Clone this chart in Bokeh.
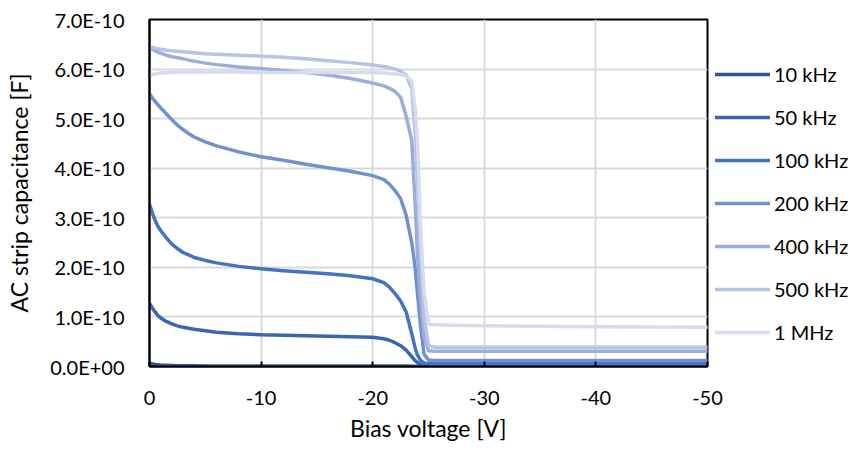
from bokeh.plotting import figure
from bokeh.models import (Range1d, FixedTicker, CustomJSTickFormatter, Legend,
                          LegendItem, ColumnDataSource)
from bokeh.embed import file_html
from bokeh.resources import INLINE

# Bias voltage [V]
V = [0, -0.25, -0.5, -0.75, -1, -1.5, -2, -2.5, -3, -3.5, -4, -5, -6, -8, -10,
     -12, -14, -16, -18, -20, -21, -21.5, -22, -22.5, -23, -23.5, -23.8, -24,
     -24.3, -24.6, -25, -25.5, -27, -30, -40, -50]

# AC strip capacitance in units of 1E-10 F
c_10k = [0.06, 0.05, 0.04, 0.035, 0.03, 0.025, 0.02, 0.017, 0.015, 0.014, 0.013,
         0.012, 0.011, 0.01, 0.01, 0.01, 0.01, 0.01, 0.01, 0.01, 0.01, 0.01,
         0.01, 0.01, 0.008, 0.006, 0.005, 0.004, 0.003, 0.002, 0.0, 0.0, 0.0,
         0.0, 0.0, 0.0]
c_50k = [1.27, 1.18, 1.10, 1.03, 0.98, 0.91, 0.86, 0.82, 0.79, 0.77, 0.75,
         0.72, 0.69, 0.66, 0.64, 0.63, 0.62, 0.61, 0.60, 0.59, 0.56, 0.53,
         0.48, 0.42, 0.33, 0.20, 0.12, 0.08, 0.04, 0.03, 0.02, 0.02, 0.02,
         0.02, 0.02, 0.02]
c_100k = [3.28, 3.10, 2.95, 2.83, 2.74, 2.60, 2.47, 2.38, 2.30, 2.25, 2.20,
          2.14, 2.09, 2.02, 1.97, 1.93, 1.90, 1.87, 1.83, 1.77, 1.69, 1.60,
          1.47, 1.32, 1.10, 0.66, 0.38, 0.24, 0.12, 0.07, 0.06, 0.06, 0.06,
          0.06, 0.06, 0.06]
c_200k = [5.50, 5.42, 5.35, 5.28, 5.22, 5.10, 4.98, 4.87, 4.78, 4.70, 4.63,
          4.53, 4.45, 4.33, 4.23, 4.16, 4.08, 4.01, 3.94, 3.85, 3.77, 3.68,
          3.55, 3.39, 3.05, 2.50, 2.00, 1.50, 0.80, 0.25, 0.13, 0.12, 0.12,
          0.12, 0.12, 0.12]
c_400k = [6.44, 6.40, 6.37, 6.34, 6.32, 6.28, 6.25, 6.23, 6.21, 6.18, 6.16,
          6.12, 6.09, 6.04, 6.01, 5.97, 5.93, 5.88, 5.81, 5.72, 5.66, 5.61,
          5.55, 5.43, 5.05, 4.55, 3.30, 2.30, 1.30, 0.60, 0.32, 0.31, 0.31,
          0.31, 0.31, 0.31]
c_500k = [6.45, 6.44, 6.42, 6.41, 6.40, 6.38, 6.37, 6.36, 6.35, 6.34, 6.33,
          6.31, 6.30, 6.28, 6.26, 6.24, 6.21, 6.17, 6.13, 6.08, 6.05, 6.03,
          6.00, 5.96, 5.88, 5.60, 4.70, 3.80, 2.20, 1.00, 0.42, 0.39, 0.39,
          0.39, 0.39, 0.39]
c_1M = [5.87, 5.89, 5.90, 5.91, 5.92, 5.93, 5.93, 5.94, 5.94, 5.94, 5.94,
        5.94, 5.94, 5.94, 5.93, 5.93, 5.93, 5.93, 5.93, 5.93, 5.92, 5.91,
        5.90, 5.89, 5.87, 5.75, 5.20, 4.60, 2.80, 1.50, 0.86, 0.84, 0.83,
        0.82, 0.80, 0.79]

labels = ["10 kHz", "50 kHz", "100 kHz", "200 kHz", "400 kHz", "500 kHz", "1 MHz"]
series = [c_10k, c_50k, c_100k, c_200k, c_400k, c_500k, c_1M]
colors = ["#2F5597", "#3A65B5", "#4472C4", "#7190D0", "#9AADDB", "#B6C3E4", "#D6DCEE"]

y_ticks = [0, 1e-10, 2e-10, 3e-10, 4e-10, 5e-10, 6e-10, 7e-10]
x_ticks = [0, -10, -20, -30, -40, -50]

for s in series:
    assert len(s) == len(V)

FONT = "Lato"

p = figure(frame_width=558, frame_height=347, output_backend="svg",
           toolbar_location=None,
           x_range=Range1d(0, -50), y_range=Range1d(0, 7e-10),
           min_border_left=149, min_border_right=0, min_border_top=19,
           min_border_bottom=85)
p.background_fill_color = "white"
p.border_fill_color = "white"
p.outline_line_color = "black"
p.outline_line_width = 2

renderers = []
for lab, vals, col in zip(labels, series, colors):
    src = ColumnDataSource(dict(x=V, y=[v * 1e-10 for v in vals]))
    r = p.line("x", "y", source=src, line_color=col, line_width=3.5,
               line_cap="round", line_join="round")
    renderers.append((lab, r))

p.xaxis.ticker = FixedTicker(ticks=x_ticks)
p.yaxis.ticker = FixedTicker(ticks=y_ticks)
p.xaxis.formatter = CustomJSTickFormatter(code="return tick.toString();")
p.yaxis.formatter = CustomJSTickFormatter(code="""
    if (Math.abs(tick) < 1e-20) { return '0.0E+00'; }
    var s = tick.toExponential(1);
    var parts = s.split('e');
    var e = parseInt(parts[1]);
    var sign = e < 0 ? '-' : '+';
    var a = Math.abs(e);
    return parts[0] + 'E' + sign + (a < 10 ? '0' + a : '' + a);
""")

for ax in (p.xaxis, p.yaxis):
    ax.axis_line_color = "black"
    ax.axis_line_width = 2
    ax.minor_tick_line_color = None
    ax.major_label_text_font = FONT
    ax.major_label_text_font_size = "20px"
    ax.major_label_text_color = "black"
    ax.axis_label_text_font = FONT
    ax.axis_label_text_font_size = "23px"
    ax.axis_label_text_font_style = "normal"
    ax.axis_label_text_color = "black"

p.xaxis.major_tick_in = 5
p.xaxis.major_tick_out = 0
p.xaxis.major_tick_line_color = "black"
p.xaxis.major_tick_line_width = 2
p.xaxis.major_label_standoff = 24
p.xaxis.axis_label = "Bias voltage [V]"
p.xaxis.axis_label_standoff = 6

p.yaxis.major_tick_line_color = None
p.yaxis.major_label_standoff = 19
p.yaxis.axis_label = "AC strip capacitance [F]"
p.yaxis.axis_label_standoff = 14

p.xgrid.ticker = FixedTicker(ticks=x_ticks)
p.ygrid.ticker = FixedTicker(ticks=y_ticks)
p.grid.grid_line_color = "#D9D9D9"
p.grid.grid_line_width = 2

legend = Legend(items=[LegendItem(label=lab, renderers=[r]) for lab, r in renderers],
                location=(8, 22), orientation="vertical",
                glyph_width=55, glyph_height=20, label_standoff=4,
                label_height=20, spacing=19, padding=0, margin=0,
                label_text_font=FONT, label_text_font_size="20px",
                label_text_color="black", border_line_color=None,
                background_fill_alpha=0)
p.add_layout(legend, "right")

open("out.html", "w").write(file_html(p, INLINE))
